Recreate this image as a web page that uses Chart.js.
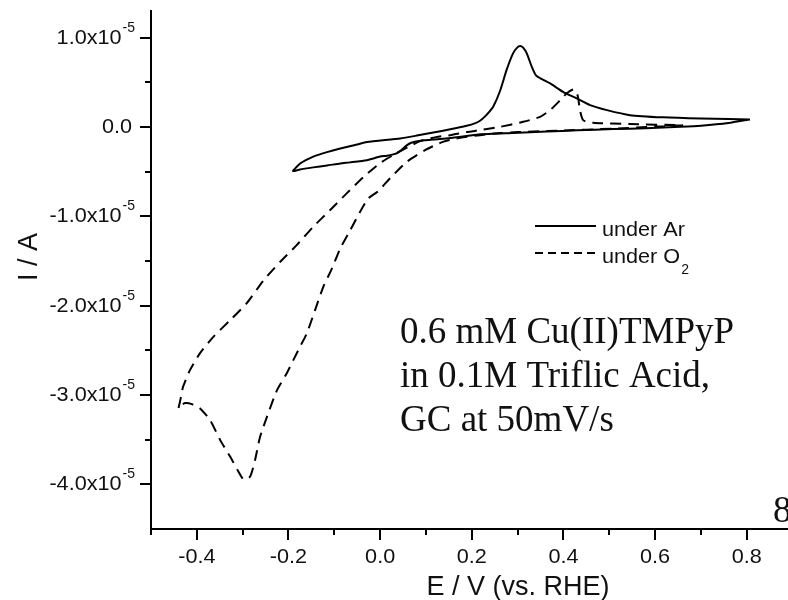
<!DOCTYPE html>
<html>
<head>
<meta charset="utf-8">
<script src="https://cdn.jsdelivr.net/npm/chart.js@4.4.1/dist/chart.umd.min.js"></script>
<style>
  html, body { margin: 0; padding: 0; background: #fff; overflow: hidden; }
  canvas { display: block; }
</style>
</head>
<body>
<canvas id="cv" width="788" height="600"></canvas>
<script>
// Cyclic voltammograms, each traced once around its closed loop.
// Potential in V vs. RHE, current in units of 1e-5 A.
const CURRENT_UNIT = 1e-5;

const arPotential = [
  0.807, 0.76, 0.70, 0.655, 0.58, 0.508, 0.43, 0.364, 0.29, 0.218,
  0.189, 0.15, 0.116, 0.085, 0.068, 0.058, 0.046, 0.033, 0.015, 0.0,
  -0.029, -0.066, -0.087, -0.116, -0.146, -0.175, -0.19,
  -0.183, -0.175, -0.16, -0.146, -0.116, -0.087, -0.05, -0.029, 0.044,
  0.08, 0.116, 0.153, 0.189, 0.208, 0.218, 0.229, 0.238, 0.247, 0.262,
  0.276, 0.290, 0.299, 0.306, 0.313, 0.320, 0.331, 0.340, 0.352, 0.371,
  0.399, 0.429, 0.458, 0.495, 0.545, 0.617, 0.70, 0.76, 0.807
];
const arCurrent = [
  0.086, 0.045, 0.015, 0.003, -0.012, -0.022, -0.035, -0.05, -0.065, -0.08,
  -0.10, -0.125, -0.138, -0.155, -0.175, -0.205, -0.26, -0.30, -0.32, -0.33,
  -0.37, -0.395, -0.407, -0.43, -0.451, -0.474, -0.493,
  -0.45, -0.41, -0.365, -0.33, -0.28, -0.24, -0.195, -0.168, -0.127,
  -0.095, -0.06, -0.025, 0.015, 0.045, 0.071, 0.12, 0.17, 0.23, 0.41,
  0.64, 0.825, 0.89, 0.907, 0.885, 0.825, 0.675, 0.58, 0.54, 0.489,
  0.395, 0.321, 0.246, 0.19, 0.134, 0.109, 0.095, 0.09, 0.086
];

const o2Potential = [
  0.661, 0.604, 0.508, 0.393, 0.30, 0.262, 0.218, 0.175, 0.137, 0.098,
  0.058, 0.022, -0.005, -0.026, -0.044, -0.065, -0.087, -0.105, -0.124, -0.142,
  -0.16, -0.175, -0.204, -0.225, -0.247, -0.262, -0.273, -0.284, -0.298, -0.309,
  -0.327, -0.349, -0.371, -0.393, -0.411, -0.425, -0.437, -0.440,
  -0.436, -0.430, -0.415, -0.393, -0.364, -0.327, -0.291, -0.255, -0.218, -0.182,
  -0.146, -0.109, -0.073, -0.036, 0.0, 0.036, 0.065, 0.087, 0.122, 0.153,
  0.189, 0.218, 0.262, 0.312, 0.349, 0.371, 0.393, 0.407, 0.421, 0.428,
  0.432, 0.436, 0.443, 0.465, 0.545, 0.661
];
const o2Current = [
  0.02, 0.006, -0.017, -0.039, -0.055, -0.067, -0.09, -0.118, -0.165, -0.258,
  -0.389, -0.571, -0.72, -0.80, -0.95, -1.153, -1.358, -1.582, -1.788, -2.049,
  -2.31, -2.46, -2.758, -2.945, -3.244, -3.468, -3.729, -3.916, -3.945, -3.86,
  -3.692, -3.505, -3.281, -3.15, -3.102, -3.09, -3.12, -3.15,
  -3.057, -2.908, -2.721, -2.531, -2.348, -2.161, -1.971, -1.72, -1.508, -1.321,
  -1.116, -0.929, -0.742, -0.557, -0.403, -0.291, -0.213, -0.157, -0.112, -0.09,
  -0.056, -0.034, 0.003, 0.059, 0.115, 0.190, 0.302, 0.377, 0.422, 0.40,
  0.33, 0.19, 0.078, 0.048, 0.034, 0.022
];

const seriesLabels = ['under Ar', 'under O2'];

// Axis ticks and labels
const xMajorTicks = [-0.4, -0.2, 0.0, 0.2, 0.4, 0.6, 0.8];
const xMinorTicks = [-0.5, -0.3, -0.1, 0.1, 0.3, 0.5, 0.7];
const xTickLabels = ['-0.4', '-0.2', '0.0', '0.2', '0.4', '0.6', '0.8'];
const yMajorTicks = [1.0e-5, 0.0, -1.0e-5, -2.0e-5, -3.0e-5, -4.0e-5];
const yMinorTicks = [0.5e-5, -0.5e-5, -1.5e-5, -2.5e-5, -3.5e-5];
const yTickBase = ['1.0x10', '0.0', '-1.0x10', '-2.0x10', '-3.0x10', '-4.0x10'];
const yTickExp = ['-5', '', '-5', '-5', '-5', '-5'];

const noteLines = ['0.6 mM Cu(II)TMPyP', 'in 0.1M Triflic Acid,', 'GC at 50mV/s'];

const SANS = '"Liberation Sans", Arial, Helvetica, sans-serif';
const SERIF = '"Liberation Serif", "Times New Roman", Times, serif';
const INK = '#111';

function toPoints(xs, ys) {
  return xs.map((x, i) => ({ x: x, y: ys[i] * CURRENT_UNIT }));
}

// Text drawn with an optional horizontal stretch
function wideText(ctx, text, x, y, sx, align) {
  const w = ctx.measureText(text).width * sx;
  const x0 = align === 'right' ? x - w : (align === 'center' ? x - w / 2 : x);
  ctx.save();
  ctx.translate(x0, y);
  ctx.scale(sx, 1);
  ctx.textAlign = 'left';
  ctx.fillText(text, 0, 0);
  ctx.restore();
  return w;
}

const decorations = {
  id: 'decorations',
  afterDraw(chart) {
    const ctx = chart.ctx;
    const xs = chart.scales.x, ys = chart.scales.y;
    const axX = ys.right;      // y-axis line position
    const axY = xs.top;        // x-axis line position
    const SX = 1.03;

    ctx.save();
    ctx.strokeStyle = '#000';
    ctx.lineWidth = 2;
    ctx.lineCap = 'butt';

    // tick marks, outward
    ctx.beginPath();
    xMajorTicks.forEach(v => { const p = Math.round(xs.getPixelForValue(v)); ctx.moveTo(p, axY); ctx.lineTo(p, axY + 11); });
    xMinorTicks.forEach(v => { const p = Math.round(xs.getPixelForValue(v)); ctx.moveTo(p, axY); ctx.lineTo(p, axY + 6); });
    yMajorTicks.forEach(v => { const p = Math.round(ys.getPixelForValue(v)); ctx.moveTo(axX, p); ctx.lineTo(axX - 11, p); });
    yMinorTicks.forEach(v => { const p = Math.round(ys.getPixelForValue(v)); ctx.moveTo(axX, p); ctx.lineTo(axX - 6, p); });
    ctx.stroke();

    ctx.fillStyle = INK;
    ctx.textBaseline = 'middle';

    // x tick labels
    ctx.font = '21px ' + SANS;
    xMajorTicks.forEach((v, i) => {
      wideText(ctx, xTickLabels[i], xs.getPixelForValue(v), 557, SX, 'center');
    });

    // y tick labels with power-of-ten exponent
    yMajorTicks.forEach((v, i) => {
      const p = ys.getPixelForValue(v);
      const right = 135;
      let expW = 0;
      if (yTickExp[i]) {
        ctx.font = '14px ' + SANS;
        expW = ctx.measureText(yTickExp[i]).width;
        wideText(ctx, yTickExp[i], right, p - 10, 1.0, 'right');
      }
      ctx.font = '21px ' + SANS;
      wideText(ctx, yTickBase[i], right - expW - (expW ? 1 : 3), p, SX, 'right');
    });

    // axis titles
    ctx.font = '27px ' + SANS;
    ctx.textBaseline = 'alphabetic';
    ctx.textAlign = 'center';
    ctx.fillText('E / V (vs. RHE)', 518, 595);
    ctx.save();
    ctx.translate(37, 257);
    ctx.rotate(-Math.PI / 2);
    ctx.fillText('I / A', 0, 0);
    ctx.restore();

    // legend
    const lx0 = 535, lx1 = 596;
    ctx.beginPath();
    ctx.moveTo(lx0, 226); ctx.lineTo(lx1, 226);
    ctx.stroke();
    ctx.setLineDash([8, 5]);
    ctx.beginPath();
    ctx.moveTo(lx0, 253); ctx.lineTo(lx1, 253);
    ctx.stroke();
    ctx.setLineDash([]);

    ctx.font = '21px ' + SANS;
    ctx.textBaseline = 'alphabetic';
    wideText(ctx, 'under Ar', 602, 236, SX, 'left');
    const w = wideText(ctx, 'under O', 602, 263, SX, 'left');
    ctx.font = '14px ' + SANS;
    wideText(ctx, '2', 602 + w + 1, 274, 1.0, 'left');

    // annotation
    ctx.font = '37px ' + SERIF;
    ctx.textAlign = 'left';
    noteLines.forEach((t, i) => ctx.fillText(t, 400, 343 + i * 44));
    ctx.fillText('8', 773, 522);

    ctx.restore();
  }
};

new Chart(document.getElementById('cv'), {
  type: 'scatter',
  data: {
    datasets: [
      {
        label: seriesLabels[0],
        data: toPoints(arPotential, arCurrent),
        showLine: true,
        borderColor: '#000',
        borderWidth: 2,
        pointRadius: 0,
        tension: 0.2,
        fill: false
      },
      {
        label: seriesLabels[1],
        data: toPoints(o2Potential, o2Current),
        showLine: true,
        borderColor: '#000',
        borderWidth: 2,
        borderDash: [11, 7],
        pointRadius: 0,
        tension: 0.2,
        fill: false
      }
    ]
  },
  options: {
    responsive: false,
    animation: false,
    events: [],
    layout: { padding: { left: 0, top: 11, right: 0, bottom: 0 } },
    plugins: { legend: { display: false }, tooltip: { enabled: false } },
    scales: {
      x: {
        type: 'linear',
        min: -0.5,
        max: 0.89,
        grid: { display: false },
        border: { display: true, color: '#000', width: 2 },
        ticks: { display: false },
        afterFit(scale) { scale.height = 71; }
      },
      y: {
        type: 'linear',
        min: -4.5e-5,
        max: 1.3e-5,
        grid: { display: false },
        border: { display: true, color: '#000', width: 2 },
        ticks: { display: false },
        afterFit(scale) { scale.height; scale.width = 151; }
      }
    }
  },
  plugins: [decorations]
});
</script>
</body>
</html>
